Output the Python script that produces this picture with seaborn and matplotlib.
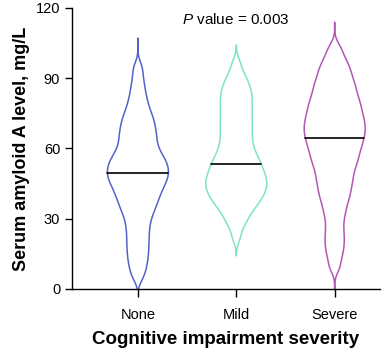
import numpy as np
import pandas as pd
import seaborn as sns
import matplotlib
matplotlib.use("Agg")
import matplotlib.pyplot as plt

none_vals = [5.1, 8.4, 11.1, 13.4, 15.7, 17.9, 20.0, 22.2, 24.3, 26.4, 28.4, 30.3,
             31.9, 33.6, 34.8, 36.1, 37.3, 38.5, 39.7, 40.7, 41.7, 42.6, 43.6, 44.6,
             45.5, 46.2, 47.0, 47.8, 48.5, 49.3, 50.1, 50.9, 51.6, 52.4, 53.2, 53.9,
             54.7, 55.6, 56.6, 57.5, 58.5, 59.5, 60.8, 62.0, 63.4, 64.5, 65.8, 67.1,
             68.4, 69.7, 71.2, 72.6, 74.1, 75.8, 78.0, 80.1, 82.9, 86.0, 89.8, 94.5]
mild_vals = [22.0, 26.7, 28.7, 30.7, 32.6, 33.7, 34.9, 36.1, 37.1, 37.9, 38.7, 39.6,
             40.4, 41.2, 41.9, 42.6, 43.3, 44.0, 44.7, 45.4, 46.1, 46.8, 47.5, 48.3,
             49.0, 49.7, 50.5, 51.4, 52.2, 53.0, 53.9, 54.8, 55.7, 56.7, 57.8, 59.0,
             60.1, 61.4, 62.8, 64.2, 65.6, 66.9, 68.3, 69.7, 71.1, 72.4, 73.8, 75.2,
             76.6, 78.0, 79.3, 80.7, 82.1, 83.5, 84.8, 86.2, 88.0, 90.0, 91.9, 96.3]
severe_vals = [9.4, 13.9, 17.2, 20.1, 23.0, 26.0, 29.3, 32.2, 34.6, 37.0, 39.0, 40.7,
               42.5, 44.2, 45.8, 47.3, 48.8, 50.3, 51.8, 53.1, 54.3, 55.5, 56.7, 57.8,
               59.0, 60.1, 61.1, 62.1, 63.1, 64.1, 65.1, 66.0, 66.9, 67.8, 68.7, 69.6,
               70.6, 71.5, 72.4, 73.4, 74.3, 75.4, 76.4, 77.5, 78.5, 79.6, 80.7, 81.8,
               83.1, 84.4, 85.7, 87.0, 88.3, 89.8, 91.5, 93.2, 94.8, 96.9, 99.4, 103.0]
groups = ["None", "Mild", "Severe"]
colors = ["#5563c9", "#7fe3c6", "#b457b3"]
cuts = [4.5, 2.8, 3.9]
p_text = "$\\it{P}$ value = 0.003"

df = pd.DataFrame({
    "group": ["None"] * len(none_vals) + ["Mild"] * len(mild_vals) + ["Severe"] * len(severe_vals),
    "saa": none_vals + mild_vals + severe_vals,
})

sns.set_style("ticks")
plt.rcParams["font.family"] = ["Liberation Sans", "DejaVu Sans"]
plt.rcParams["mathtext.fontset"] = "custom"
plt.rcParams["mathtext.it"] = "Liberation Sans:italic"
plt.rcParams["mathtext.rm"] = "Liberation Sans"
for k in ["text.color", "axes.labelcolor", "xtick.color", "ytick.color", "axes.edgecolor"]:
    plt.rcParams[k] = "black"

fig = plt.figure(figsize=(3.83, 3.59), dpi=100)
ax = fig.add_axes([0.188, 0.195, 0.804, 0.783])

bw = 2.8  # kernel bandwidth in mg/L
for g, c, cut in zip(groups, colors, cuts):
    sub = df[df["group"] == g]
    n0 = len(ax.lines)
    sns.violinplot(data=sub, x="group", y="saa", order=groups, color=c, fill=False,
                   cut=cut, bw_method=bw / sub["saa"].std(), density_norm="width",
                   width=0.62, inner="quart", linewidth=1.1, ax=ax)
    new = ax.lines[n0:]
    # keep only the median line, solid black
    if len(new) == 3:
        new[0].remove()
        new[2].remove()
        new[1].set_linestyle("-")
        new[1].set_color("black")
        new[1].set_linewidth(1.2)

ax.set_ylim(0, 120)
ax.set_yticks([0, 30, 60, 90, 120])
ax.set_xlim(-0.67, 2.46)
ax.set_xlabel("Cognitive impairment severity", fontsize=13.5, fontweight="bold", labelpad=6)
ax.set_ylabel("Serum amyloid A level, mg/L", fontsize=13, fontweight="bold", labelpad=4)
ax.tick_params(axis="both", labelsize=10.5, width=1, length=5, colors="black")
ax.tick_params(axis="x", length=6, pad=8)
for s in ["top", "right"]:
    ax.spines[s].set_visible(False)
for s in ["left", "bottom"]:
    ax.spines[s].set_linewidth(1)

ax.text(1, 115, p_text, ha="center", va="center", fontsize=11)

fig.savefig("out.png", dpi=100)
